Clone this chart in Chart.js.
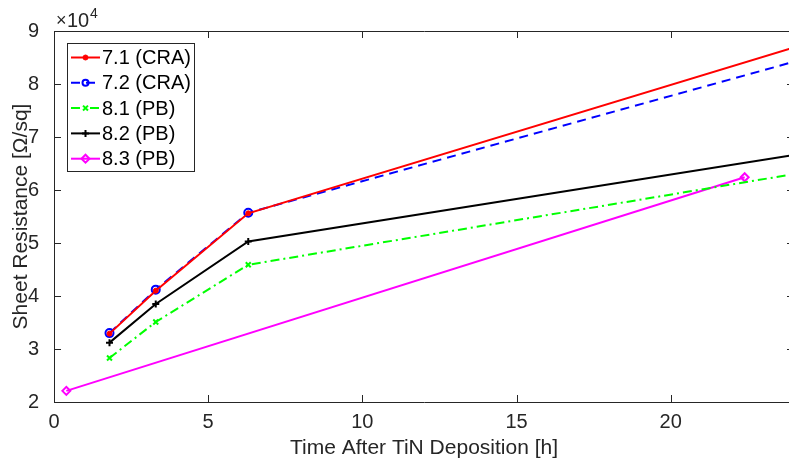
<!DOCTYPE html>
<html>
<head>
<meta charset="utf-8">
<script src="https://cdn.jsdelivr.net/npm/chart.js@4.4.1/dist/chart.umd.min.js"></script>
<style>
  html, body { margin: 0; padding: 0; background: #fff; overflow: hidden; }
  #wrap { width: 789px; height: 465px; overflow: hidden; }
</style>
</head>
<body>
<div id="wrap"><canvas id="mycanvas" width="800" height="465"></canvas></div>
<script>
// hours after TiN deposition
var t71 = [1.8, 3.3, 6.3, 24];
var r71 = [32900, 41000, 55600, 86900];
var t72 = [1.8, 3.3, 6.3, 24];
var r72 = [33000, 41200, 55700, 84200];
var t81 = [1.8, 3.3, 6.3, 24];
var r81 = [28300, 35100, 45900, 63000];
var t82 = [1.8, 3.3, 6.3, 24];
var r82 = [31200, 38500, 50300, 66600];
var t83 = [0.4, 22.4];
var r83 = [22100, 62400];

var labels = ["7.1 (CRA)", "7.2 (CRA)", "8.1 (PB)", "8.2 (PB)", "8.3 (PB)"];
var xTicks = [0, 5, 10, 15, 20];
var yTicks = [20000, 30000, 40000, 50000, 60000, 70000, 80000, 90000];

function pts(xs, ys){
	var out = [];
	for(var i in xs){
		out.push({x: xs[i], y: ys[i]});
	}
	return out;
}

var FONT = "'Liberation Sans', Arial, sans-serif";
var INK = "#262626";

var sets = [
	{label: labels[0], data: pts(t71, r71), borderColor: "#ff0000", backgroundColor: "#ff0000",
	 pointStyle: "circle", pointRadius: 2.5, pointBorderWidth: 1, borderDash: []},
	{label: labels[1], data: pts(t72, r72), borderColor: "#0000ff", backgroundColor: "rgba(0,0,0,0)",
	 pointStyle: "circle", pointRadius: 4, pointBorderWidth: 2, borderDash: [9, 6]},
	{label: labels[2], data: pts(t81, r81), borderColor: "#00ff00", backgroundColor: "#00ff00",
	 pointStyle: "crossRot", pointRadius: 3.5, pointBorderWidth: 2, borderDash: [9, 4, 2, 4]},
	{label: labels[3], data: pts(t82, r82), borderColor: "#000000", backgroundColor: "#000000",
	 pointStyle: "cross", pointRadius: 3.5, pointBorderWidth: 2, borderDash: []},
	{label: labels[4], data: pts(t83, r83), borderColor: "#ff00ff", backgroundColor: "rgba(0,0,0,0)",
	 pointStyle: "rectRot", pointRadius: 4, pointBorderWidth: 2, borderDash: []}
];
sets.forEach(function(s){
	s.showLine = true;
	s.borderWidth = 2;
	s.tension = 0;
	s.fill = false;
	s.pointBackgroundColor = s.backgroundColor;
	s.pointBorderColor = s.borderColor;
});

// inward ticks, box, x10^4 and the legend box
var matlabBits = {
	id: "matlabBits",
	afterDatasetsDraw: function(chart){
		var c = chart.ctx, a = chart.chartArea;
		var xs = chart.scales.x, ys = chart.scales.y;
		c.save();
		c.strokeStyle = INK;
		c.lineWidth = 1;
		c.beginPath();
		c.rect(a.left + 0.5, a.top + 0.5, a.right - a.left, a.bottom - a.top);
		c.stroke();
		c.beginPath();
		xTicks.forEach(function(v){
			var px = Math.round(xs.getPixelForValue(v)) + 0.5;
			c.moveTo(px, a.bottom); c.lineTo(px, a.bottom - 7);
			c.moveTo(px, a.top); c.lineTo(px, a.top + 7);
		});
		yTicks.forEach(function(v){
			var py = Math.round(ys.getPixelForValue(v)) + 0.5;
			c.moveTo(a.left, py); c.lineTo(a.left + 7, py);
			c.moveTo(a.right, py); c.lineTo(a.right - 7, py);
		});
		c.stroke();

		// exponent label
		c.fillStyle = INK;
		c.textBaseline = "alphabetic";
		c.textAlign = "left";
		c.font = "18px " + FONT;
		c.fillText("\u00d7", 56, 26);
		c.font = "20px " + FONT;
		c.fillText("10", 67, 27);
		c.font = "14px " + FONT;
		c.fillText("4", 90, 18);

		// legend
		var lx = 67, ly = 43, lw = 127, lh = 128;
		c.fillStyle = "#ffffff";
		c.fillRect(lx, ly, lw, lh);
		c.strokeStyle = INK;
		c.lineWidth = 1;
		c.strokeRect(lx + 0.5, ly + 0.5, lw, lh);
		chart.data.datasets.forEach(function(ds, i){
			var yy = 57.5 + i * 25.3;
			c.strokeStyle = ds.borderColor;
			c.lineWidth = 2;
			c.setLineDash(ds.borderDash);
			c.beginPath();
			c.moveTo(71, yy); c.lineTo(100, yy);
			c.stroke();
			c.setLineDash([]);
			c.fillStyle = ds.pointBackgroundColor;
			c.strokeStyle = ds.pointBorderColor;
			c.lineWidth = ds.pointBorderWidth;
			Chart.helpers.drawPoint(c, {
				pointStyle: ds.pointStyle,
				radius: ds.pointStyle === "circle" && i === 1 ? 3 : ds.pointRadius,
				borderWidth: ds.pointBorderWidth,
				rotation: 0
			}, 85.5, yy);
			c.fillStyle = "#000000";
			c.font = "20px " + FONT;
			c.textAlign = "left";
			c.textBaseline = "middle";
			c.fillText(ds.label, 102, yy + 1);
		});
		c.restore();
	}
};

var ctx = document.getElementById("mycanvas");

var lineGraph = new Chart(ctx, {
	type: "scatter",
	data: { datasets: sets },
	options: {
		responsive: false,
		animation: false,
		layout: { padding: { left: 0, top: 31, right: 6, bottom: 0 } },
		plugins: { legend: { display: false }, tooltip: { enabled: false } },
		scales: {
			x: {
				type: "linear", min: 0, max: 24,
				afterFit: function(s){ s.height = 63; },
				border: { display: false },
				grid: { display: false },
				ticks: {
					stepSize: 5, includeBounds: false, maxRotation: 0, padding: 0,
					color: INK, font: { family: FONT, size: 20 }
				},
				title: {
					display: true, text: "Time After TiN Deposition [h]",
					color: INK, font: { family: FONT, size: 21 }, padding: { top: 0, bottom: 4 }
				}
			},
			y: {
				type: "linear", min: 20000, max: 90000,
				afterFit: function(s){ s.width = 54; },
				border: { display: false },
				grid: { display: false },
				ticks: {
					stepSize: 10000, padding: 7,
					color: INK, font: { family: FONT, size: 20 },
					callback: function(v){ return v / 10000; }
				},
				title: {
					display: true, text: "Sheet Resistance [\u03a9/sq]",
					color: INK, font: { family: FONT, size: 21 }, padding: { top: 9, bottom: 0 }
				}
			}
		}
	},
	plugins: [matlabBits]
});
</script>
</body>
</html>
